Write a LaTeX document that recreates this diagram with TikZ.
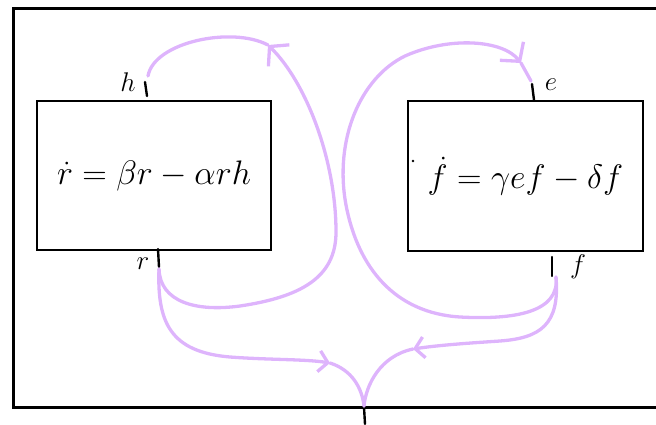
\RequirePackage{fix-cm}
\documentclass[tikz,border=0pt]{standalone}
\usepackage{amsmath}
\usetikzlibrary{arrows.meta, calc}
\definecolor{lilac}{RGB}{222,180,252}

\tikzset{
  eqbox/.style={draw, line width=2.8pt, inner sep=0pt,
                font=\fontsize{34}{40}\selectfont},
  lab/.style={font=\fontsize{27}{32}\selectfont, inner sep=0pt},
  stub/.style={line width=2.4pt, line cap=round},
  flow/.style={draw=lilac, line width=3.3pt, line cap=round},
  bigbarb/.style={-{Straight Barb[length=13pt,width=30pt]}},
  smallbarb/.style={-{Straight Barb[length=9pt,width=21pt]}}
}

\begin{document}
\begin{tikzpicture}[x=1pt, y=-1pt]
  \clip (0,0) rectangle (656,424);
  \draw[line width=3pt] (13,8) rectangle (680,407);

  % the two equations
  \node[eqbox, minimum width=234pt, minimum height=149pt] (rbox) at (154,175.5)
    {$\dot r=\beta r-\alpha rh$};
  \node[eqbox, minimum width=235pt, minimum height=150pt] (fbox) at (525.5,176)
    {$\dot f=\gamma ef-\delta f$};
  \fill (413,161) circle (1.4pt);

  % stubs and their letters
  \coordinate (hT) at (148,76);
  \coordinate (rB) at (159,269);
  \coordinate (eT) at (531,81);
  \coordinate (fB) at (556,277);
  \coordinate (bT) at (364,406);
  \draw[stub] (145,82) -- (147,96);
  \draw[stub] (158,249) -- (159,267);
  \draw[stub] (532,84) -- (534,100);
  \draw[stub] (552,257) -- (552,276);
  \draw[stub] (364,407) -- (365,424);
  \node[lab] (hlab) at (128,82) {$h$};
  \node[lab] (rlab) at (143,264) {$r$};
  \node[lab] (elab) at (551,85) {$e$};
  \node[lab] (flab) at (578,267) {$f$};

  % meeting points of the flows
  \coordinate (jn1) at (268,45);
  \coordinate (jn2) at (521,63);
  \coordinate (jnL) at (330,363);
  \coordinate (jnR) at (413,349);

  \draw[flow] (hT) .. controls (154,42) and (232,26) .. (jn1);
  \draw[flow, bigbarb] (rB) .. controls (160,302) and (196,312) .. (240,306)
    .. controls (300,297) and (336,278) .. (336,232)
    .. controls (336,160) and (306,82) .. (jn1);

  \draw[flow, bigbarb] (fB) .. controls (560,312) and (515,320) .. (460,317)
    .. controls (395,313) and (358,268) .. (346,205)
    .. controls (334,140) and (360,78) .. (405,56)
    .. controls (450,36) and (503,40) .. (jn2);
  \draw[flow] (jn2) -- (eT);

  \draw[flow, smallbarb] (rB) .. controls (157,322) and (170,352) .. (230,357)
    .. controls (270,360) and (305,359) .. (jnL);
  \draw[flow] (jnL) .. controls (352,370) and (362,388) .. (bT);
  \draw[flow, smallbarb] (fB) .. controls (560,325) and (540,338) .. (500,341)
    .. controls (470,343) and (440,345) .. (jnR);
  \draw[flow] (jnR) .. controls (380,356) and (366,385) .. (bT);
\end{tikzpicture}
\end{document}
